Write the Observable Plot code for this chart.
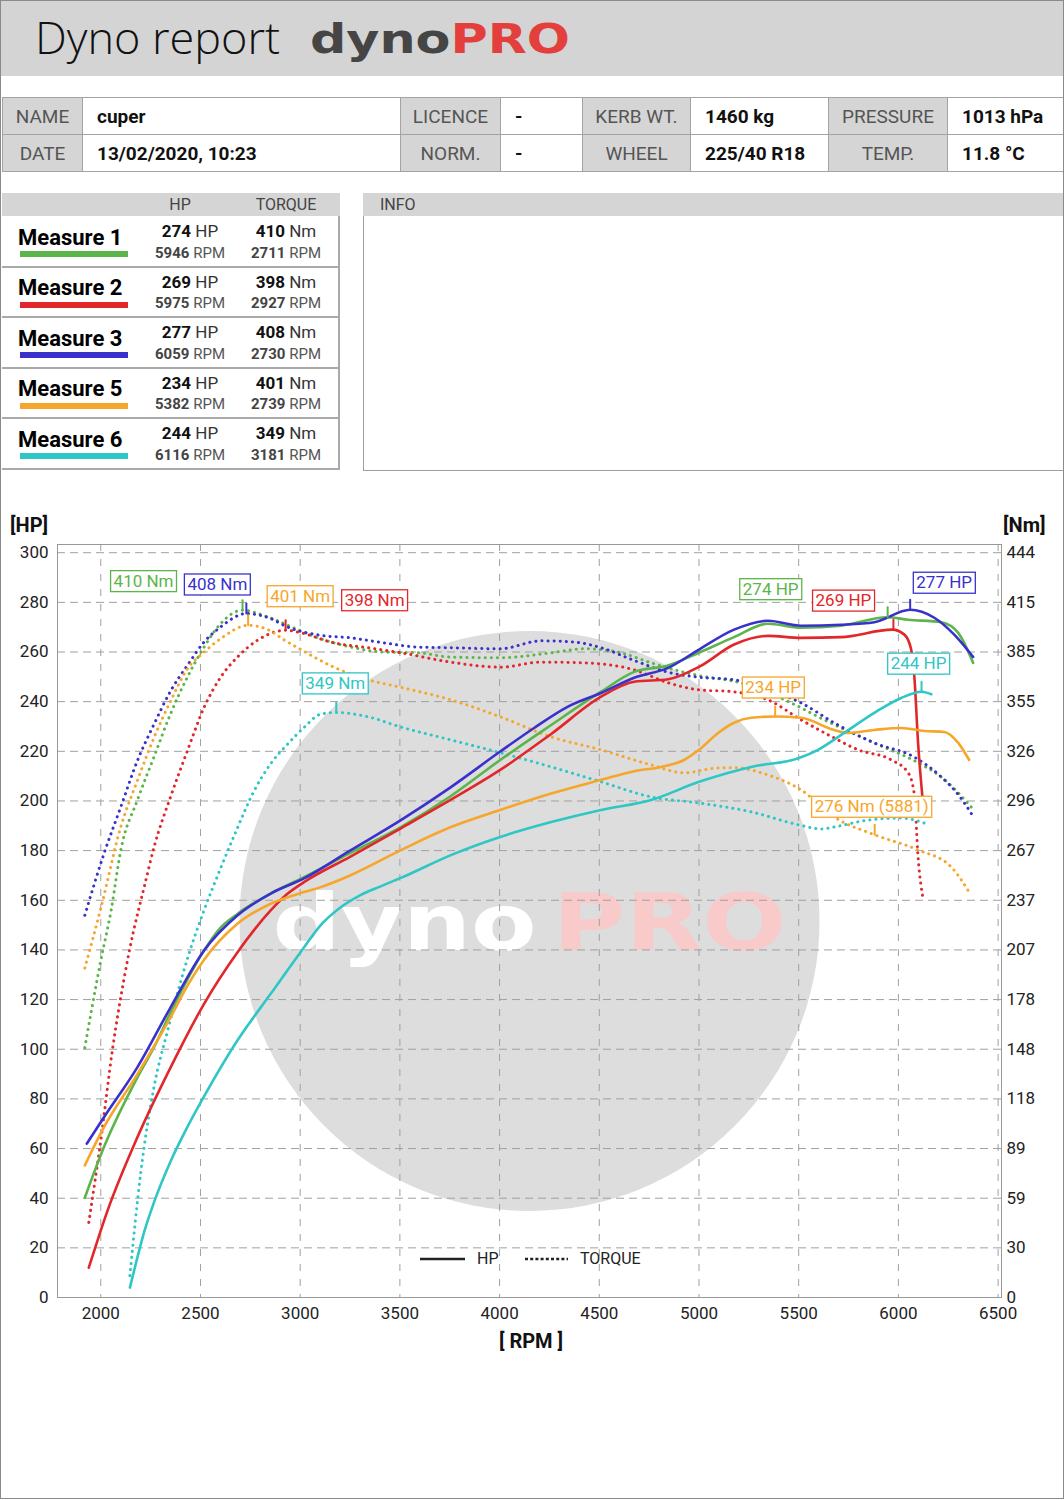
<!DOCTYPE html>
<html>
<head>
<meta charset="utf-8">
<script src="https://cdn.jsdelivr.net/npm/d3@7"></script>
<script src="https://cdn.jsdelivr.net/npm/@observablehq/plot@0.6"></script>
<style>
html,body{margin:0;padding:0;background:#fff;}
body{font-family:Roboto,"Noto Sans",sans-serif;color:#111;}
#page{position:relative;width:1064px;height:1500px;overflow:hidden;background:#fff;}
#border{position:absolute;left:0;top:0;width:1064px;height:1499px;border:1.5px solid #8a8a8a;box-sizing:border-box;pointer-events:none;z-index:20;}
.abs{position:absolute;box-sizing:border-box;}
.cell{position:absolute;box-sizing:border-box;white-space:nowrap;overflow:hidden;}
.lab{background:#d5d5d5;color:#555;text-align:center;font-size:19px;}
.val{background:#fff;color:#111;font-weight:700;font-size:19px;padding-left:14px;}
.mrow{position:absolute;left:2px;width:338px;box-sizing:border-box;border-bottom:2px solid #a9a9a9;border-right:2px solid #a9a9a9;}
.mname{position:absolute;left:16px;font-weight:700;font-size:22px;line-height:22px;color:#000;}
.mbar{position:absolute;left:18px;width:108px;height:6px;}
.mval{position:absolute;width:110px;text-align:center;white-space:nowrap;}
.l1{font-size:17px;line-height:17px;color:#333;}
.l1 b{color:#111;}
.l2{font-size:15px;line-height:15px;color:#555;}
.l2 b{color:#444;}
</style>
</head>
<body>
<div id="page">
  <div id="header" class="abs" style="left:0;top:0;width:1064px;height:76px;background:#d4d4d4;">
    <svg width="1064" height="76" style="position:absolute;left:0;top:0">
      <text x="35" y="54" font-family="Open Sans" font-weight="300" font-size="45" fill="#111">Dyno report</text>
      <text id="logo" x="310" y="53" font-family="DejaVu Sans" font-weight="bold" font-size="40" textLength="260" lengthAdjust="spacingAndGlyphs"><tspan fill="#454545">dyno</tspan><tspan fill="#e3403d">PRO</tspan></text>
    </svg>
  </div>
  <div id="info"></div>
  <div id="measures"></div>
  <div class="abs" style="left:363px;top:193px;width:701px;height:23px;background:#d5d5d5;color:#444;font-size:16px;line-height:23px;padding-left:17px;">INFO</div>
  <div class="abs" style="left:363px;top:216px;width:701px;height:255px;border-left:1.5px solid #a0a0a0;border-bottom:1.5px solid #a0a0a0;"></div>

  <div class="abs" style="left:10px;top:512px;font-weight:700;font-size:20px;line-height:26px;color:#111;">[HP]</div>
  <div class="abs" style="left:1003px;top:512px;font-weight:700;font-size:20px;line-height:26px;color:#111;">[Nm]</div>
  <div id="chart" class="abs" style="left:0;top:505px;width:1064px;height:860px;"></div>
  <div class="abs" style="left:431px;width:200px;top:1328px;text-align:center;font-weight:700;font-size:20px;line-height:26px;color:#111;">[ RPM ]</div>
  <div class="abs" style="left:415px;top:1246px;width:260px;height:24px;">
    <svg width="260" height="24">
      <line x1="5" x2="50" y1="13" y2="13" stroke="#222" stroke-width="2.5"/>
      <text x="62" y="18" font-family="Roboto" font-size="16" fill="#222">HP</text>
      <line x1="110" x2="153" y1="13" y2="13" stroke="#222" stroke-width="2.5" stroke-dasharray="3,2.2"/>
      <text x="165" y="18" font-family="Roboto" font-size="16" fill="#222">TORQUE</text>
    </svg>
  </div>
  <div id="border"></div>
</div>
<script>
// ---------------- report data ----------------
const infoLabels1 = ["NAME", "LICENCE", "KERB WT.", "PRESSURE"];
const infoValues1 = ["cuper", "-", "1460 kg", "1013 hPa"];
const infoLabels2 = ["DATE", "NORM.", "WHEEL", "TEMP."];
const infoValues2 = ["13/02/2020, 10:23", "-", "225/40 R18", "11.8 °C"];

const measureNames = ["Measure 1", "Measure 2", "Measure 3", "Measure 5", "Measure 6"];
const measureColors = ["#5bb54a", "#e2272b", "#3a31cc", "#f6a62a", "#2fc6c6"];
const peakHp = [274, 269, 277, 234, 244];
const peakHpRpm = [5946, 5975, 6059, 5382, 6116];
const peakNm = [410, 398, 408, 401, 349];
const peakNmRpm = [2711, 2927, 2730, 2739, 3181];

// extra annotation: Measure 5 torque at 5881 rpm
const extraNm = 276;
const extraRpm = 5881;

const rpmTicks = [2000, 2500, 3000, 3500, 4000, 4500, 5000, 5500, 6000, 6500];
const hpTicks = [0, 20, 40, 60, 80, 100, 120, 140, 160, 180, 200, 220, 240, 260, 280, 300];
const nmTickLabels = ["0", "30", "59", "89", "118", "148", "178", "207", "237", "267", "296", "326", "355", "385", "415", "444"];
const NM_PER_HP_UNIT = 1.481; // right axis: 444 Nm at 300 on left axis

// Measure 1 (green)
const m1HpRpm = [1920,2016,2184,2267,2351,2518,2601,2685,2852,3019,3250,3505,3756,4003,4259,4509,4675,4845,5000,5176,5346,5512,5713,5944,6049,6215,6300,6375];
const m1Hp =    [40.2,60.6,88.7,100.8,115,139.8,149,154.5,162.7,169.3,179,189.5,202,216.5,230.6,244,252,254.6,259.7,266,271.4,269.8,270.6,274,273,272,267.7,255.6];
const m1NmRpm = [1920,2000,2052,2100,2184,2267,2351,2434,2518,2601,2711,2838,2938,3089,3254,3420,3590,3756,4003,4259,4424,4594,4760,4925,5000,5207,5462,5628,5879,6099,6215,6365];
const m1Nm =    [149,201,231,266.6,296.8,322.5,348.5,370,388,402,410,406,401,393.5,388,385,384.6,382,381.6,384.6,387,385,378.6,373,371,366.7,354.7,344.6,330.8,319,310.5,292.6];

// Measure 2 (red)
const m2HpRpm = [1940,2034,2184,2351,2518,2685,2852,2936,3019,3250,3505,3756,4003,4259,4509,4675,4845,5000,5176,5346,5512,5713,5969,6030,6064,6080,6099,6120];
const m2Hp =    [12,35,64.6,92.8,118.3,139,155.9,162.6,167.3,177.5,189,200.5,212.5,227,242,248,249,254,263,266.5,265.7,266,269,267,261,250,223,202];
const m2NmRpm = [1940,2000,2060,2115,2165,2191,2216,2267,2351,2434,2518,2601,2685,2785,2927,3004,3169,3340,3505,3756,4003,4208,4424,4675,4845,5000,5176,5346,5512,5678,5798,5964,6049,6079,6099,6125];
const m2Nm =    [44.8,93.7,149,189,219,232,244,268.6,299,326,352,370,382,392,398,396.5,390.5,387.6,384.6,379,376,379,378.6,374.4,366.7,362.5,361.3,356.5,344.6,333.8,326.7,320.7,313,300.8,262,237];

// Measure 3 (blue)
const m3HpRpm = [1930,2016,2184,2351,2518,2685,2852,3019,3250,3505,3756,4003,4173,4343,4509,4675,4845,5000,5176,5346,5512,5713,5879,6059,6180,6280,6375];
const m3Hp =    [62,72.6,92.8,117,139.8,153.9,162.7,168.8,180,192.3,205.6,219.9,229.4,238,243.5,249.6,253.6,261,269,272.6,270.6,271,272,277,273.8,267,258];
const m3NmRpm = [1920,2016,2100,2184,2267,2351,2434,2518,2601,2730,2852,2936,3103,3254,3420,3590,3756,4003,4208,4373,4509,4675,4845,5000,5176,5346,5512,5678,5879,6079,6215,6300,6375];
const m3Nm =    [228,264.7,292.5,320.3,342,362,377,391,400,408,405,400,395,393.5,390.5,388,387.6,387,391.7,391,387.6,380,373,370,368.5,362.5,354.7,342.8,330.8,322.4,310.5,300,287];

// Measure 5 (orange)
const m5HpRpm = [1920,2016,2184,2351,2434,2518,2685,2852,3019,3103,3250,3505,3756,4003,4259,4509,4675,4810,4925,5000,5096,5176,5261,5382,5512,5678,5748,5879,6014,6130,6230,6300,6355];
const m5Hp =    [53.2,68.6,90,113,125.5,136,150.5,158.6,163.3,165.3,170,180.2,189.5,196.4,203,208.5,212,213.7,216.5,220.6,227.4,231.5,233.5,234,233.5,228.6,227.4,228.6,229.4,228.2,227.8,223.4,216.5];
const m5NmRpm = [1920,2000,2100,2184,2267,2351,2434,2518,2601,2739,2838,2918,3004,3169,3340,3505,3756,4003,4259,4509,4760,4925,5096,5176,5346,5512,5678,5881,6099,6265,6355];
const m5Nm =    [196.5,232,280.6,308.5,334,356,375,385,393,401,398.4,392.4,386.5,376,368.5,364,356.5,346.4,334.4,326.7,317.7,313,315.9,316,311.7,302.8,286.6,276,267,256.8,241.8];

// Measure 6 (cyan)
const m6HpRpm = [2146,2180,2220,2270,2351,2430,2518,2685,2852,3019,3103,3200,3300,3400,3505,3756,4003,4259,4509,4760,5000,5261,5502,5597,5713,5879,6014,6116,6165];
const m6Hp =    [4,15,27,39,55,68,81,103.5,122.3,141,150,157,162,165.5,169,178.2,185.5,191.5,196.4,200.4,207.7,213.7,217.3,220.6,226.6,235.5,241.5,244,243];
const m6NmRpm = [2146,2200,2266,2336,2437,2518,2601,2685,2768,2852,2936,3019,3103,3181,3340,3505,3756,4003,4259,4509,4760,5000,5261,5502,5612,5678,5849,6014,6155];
const m6Nm =    [13,74,125,159.5,203,231,256,280,302,318.4,330,340,348,349,346.4,340.3,332.6,325,316.5,307.6,298.6,295,289.7,281.9,279.5,280.7,284.8,286,281.9];

// ---------------- layout (label offsets in px, not data) ----------------
const nmLabelOffsets = [[-99,-29],[89,-30],[-29,-29],[52,-29],[-1,-29]];
const hpLabelOffsets = [[-117,-28],[-50,-29],[34,-27],[-2,-29],[-3,-28]];
const extraLabelOffset = [-3,-28];

// ---------------- HTML tables ----------------
(function buildInfo(){
  const info = document.getElementById("info");
  const labX = [2, 400, 582, 828], labW = [80, 100, 108, 119];
  const valX = [82, 500, 690, 947], valW = [318, 82, 138, 117];
  const rows = [[infoLabels1, infoValues1, 97], [infoLabels2, infoValues2, 134]];
  let html = "";
  rows.forEach(([labs, vals, top]) => {
    labs.forEach((l, i) => {
      html += `<div class="cell lab" style="left:${labX[i]}px;top:${top}px;width:${labW[i]+1}px;height:38px;line-height:37px;border:1px solid #a3a3a3;">${l}</div>`;
      html += `<div class="cell val" style="left:${valX[i]}px;top:${top}px;width:${valW[i]+1}px;height:38px;line-height:37px;border:1px solid #a3a3a3;">${vals[i]}</div>`;
    });
  });
  info.innerHTML = html;
})();

(function buildMeasures(){
  const el = document.getElementById("measures");
  let html = `<div class="abs" style="left:2px;top:193px;width:338px;height:23px;background:#d5d5d5;"></div>`;
  html += `<div class="abs" style="left:130px;width:100px;top:193px;text-align:center;font-size:16px;line-height:23px;color:#444;">HP</div>`;
  html += `<div class="abs" style="left:236px;width:100px;top:193px;text-align:center;font-size:16px;line-height:23px;color:#444;">TORQUE</div>`;
  measureNames.forEach((name, i) => {
    const top = 216 + i * 50.6;
    html += `<div class="mrow" style="top:${top}px;height:${50.6+1}px;">
      <div class="mname" style="top:10.5px;">${name}</div>
      <div class="mbar" style="top:35px;background:${measureColors[i]};"></div>
      <div class="mval l1" style="left:133px;top:7px;"><b>${peakHp[i]}</b> HP</div>
      <div class="mval l2" style="left:133px;top:29.5px;"><b>${peakHpRpm[i]}</b> RPM</div>
      <div class="mval l1" style="left:229px;top:7px;"><b>${peakNm[i]}</b> Nm</div>
      <div class="mval l2" style="left:229px;top:29.5px;"><b>${peakNmRpm[i]}</b> RPM</div>
    </div>`;
  });
  el.innerHTML = html;
})();

// ---------------- chart ----------------
const toUnits = nm => nm / NM_PER_HP_UNIT;
const pairs = (rpm, v) => rpm.map((r, i) => ({rpm: r, v: v[i]}));
const hpSeries = [pairs(m1HpRpm, m1Hp), pairs(m2HpRpm, m2Hp), pairs(m3HpRpm, m3Hp), pairs(m5HpRpm, m5Hp), pairs(m6HpRpm, m6Hp)];
const nmSeries = [pairs(m1NmRpm, m1Nm), pairs(m2NmRpm, m2Nm), pairs(m3NmRpm, m3Nm), pairs(m5NmRpm, m5Nm), pairs(m6NmRpm, m6Nm)];

const annos = [];
measureNames.forEach((n, i) => {
  annos.push({rpm: peakNmRpm[i], y: toUnits(peakNm[i]), label: `${peakNm[i]} Nm`, color: measureColors[i], off: nmLabelOffsets[i]});
  annos.push({rpm: peakHpRpm[i], y: peakHp[i], label: `${peakHp[i]} HP`, color: measureColors[i], off: hpLabelOffsets[i]});
});
annos.push({rpm: extraRpm, y: toUnits(extraNm), label: `${extraNm} Nm (${extraRpm})`, color: measureColors[3], off: extraLabelOffset});

const tickShape = {draw(context, l) { context.moveTo(0, 0); context.lineTo(0, -l); }};

const marks = [
  Plot.dot([0], {frameAnchor: "middle", r: 290, fill: "#dddddd", stroke: "none"}),
  Plot.text(["dyno"], {text: d => d, frameAnchor: "middle", textAnchor: "end", dx: 7, dy: 4, fill: "#ffffff", fontSize: 78, fontWeight: "bold", fontFamily: "DejaVu Sans"}),
  Plot.text(["PRO"], {text: d => d, frameAnchor: "middle", textAnchor: "start", dx: 23, dy: 4, fill: "#f8caca", fontSize: 78, fontWeight: "bold", fontFamily: "DejaVu Sans"}),
  Plot.gridX(rpmTicks, {stroke: "#a0a0a0", strokeOpacity: 1, strokeDasharray: "7,8"}),
  Plot.gridY(hpTicks, {stroke: "#a0a0a0", strokeOpacity: 1, strokeDasharray: "8,5"}),
  Plot.frame({stroke: "#999"}),
  Plot.axisX(rpmTicks, {tickSize: 0, tickPadding: 9, fontSize: 17, fill: "#222", label: null, tickFormat: d => String(d)}),
  Plot.axisY(hpTicks, {anchor: "left", tickSize: 0, tickPadding: 9, fontSize: 17, fill: "#222", label: null, tickFormat: d => String(d)}),
  Plot.axisY(hpTicks, {anchor: "right", tickSize: 0, tickPadding: 5, fontSize: 17, fill: "#222", label: null, tickFormat: d => nmTickLabels[hpTicks.indexOf(d)]})
];
nmSeries.forEach((s, i) => {
  marks.push(Plot.line(s, {x: "rpm", y: d => toUnits(d.v), stroke: measureColors[i], strokeWidth: 3, strokeDasharray: "0.1,6", strokeLinecap: "round", curve: "monotone-x"}));
});
hpSeries.forEach((s, i) => {
  marks.push(Plot.line(s, {x: "rpm", y: "v", stroke: measureColors[i], strokeWidth: 2.6, curve: "monotone-x"}));
});
annos.forEach((a) => {
  marks.push(Plot.vector([a], {x: "rpm", y: "y", length: 10, rotate: 0, anchor: "start", stroke: a.color, strokeWidth: 2, shape: tickShape}));
  marks.push(Plot.text([a], {x: "rpm", y: "y", text: "label", dx: a.off[0], dy: a.off[1], fill: a.color, fontSize: 17, fontFamily: "Roboto"}));
});

const chart = Plot.plot({
  width: 1064,
  height: 860,
  marginTop: 39,
  marginBottom: 68,
  marginLeft: 57,
  marginRight: 63,
  x: {domain: [1783, 6517]},
  y: {domain: [0, 303.3]},
  style: {fontFamily: "Roboto", fontSize: "17px", color: "#222", background: "transparent", overflow: "visible"},
  marks
});
document.getElementById("chart").append(chart);

const ns = "http://www.w3.org/2000/svg";
const allTexts = Array.from(chart.querySelectorAll("text"));

// watermark stretch
allTexts.forEach(t => {
  if (t.textContent === "dyno") { t.setAttribute("textLength", 264); t.setAttribute("lengthAdjust", "spacingAndGlyphs"); }
  if (t.textContent === "PRO") { t.setAttribute("textLength", 234); t.setAttribute("lengthAdjust", "spacingAndGlyphs"); }
});

// boxes around annotation labels
annos.forEach((a) => {
  const t = allTexts.find(el => el.textContent === a.label);
  if (!t) return;
  const b = t.getBBox();
  const r = document.createElementNS(ns, "rect");
  r.setAttribute("x", b.x - 3);
  r.setAttribute("y", b.y);
  r.setAttribute("width", b.width + 6);
  r.setAttribute("height", b.height + 1);
  r.setAttribute("fill", "#fff");
  r.setAttribute("stroke", a.color);
  r.setAttribute("stroke-width", 1.3);
  const tr = t.getAttribute("transform");
  if (tr) r.setAttribute("transform", tr);
  t.parentNode.insertBefore(r, t);
});
</script>
</body>
</html>
